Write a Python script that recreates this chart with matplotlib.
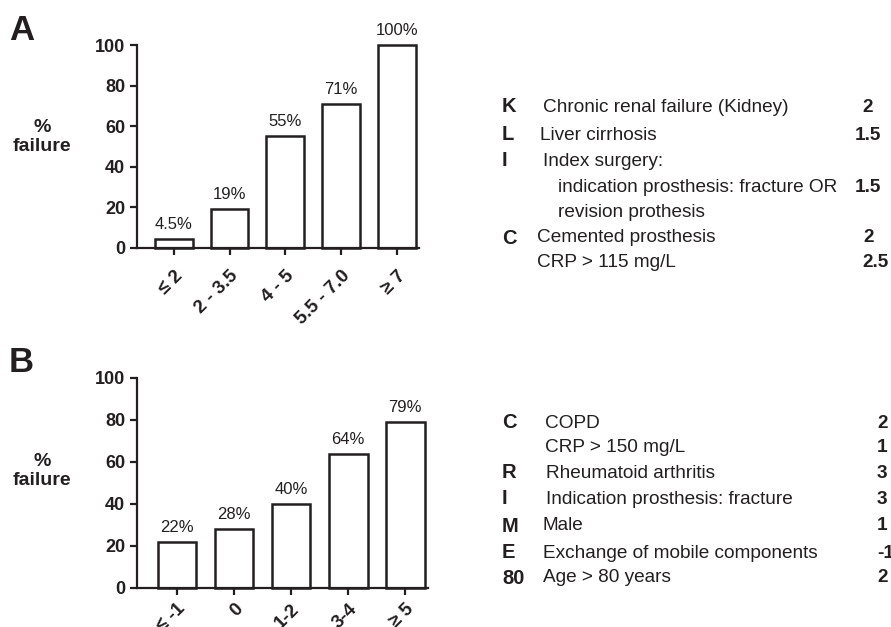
import matplotlib
matplotlib.use("Agg")
import matplotlib.pyplot as plt

plt.rcParams['font.family'] = ['Liberation Sans', 'DejaVu Sans']

# panel A data
cats_a = ["\u2264 2", "2 - 3.5", "4 - 5", "5.5 - 7.0", "\u2265 7"]
vals_a = [4.5, 19, 55, 71, 100]
labels_a = ["4.5%", "19%", "55%", "71%", "100%"]

# panel B data
cats_b = ["\u2264 -1", "0", "1-2", "3-4", "\u2265 5"]
vals_b = [22, 28, 40, 64, 79]
labels_b = ["22%", "28%", "40%", "64%", "79%"]

yticks = [0, 20, 40, 60, 80, 100]

# score tables (letter, description, points)
letters_a = ["K", "L", "I", "", "", "C", ""]
desc_a = ["Chronic renal failure (Kidney)", "Liver cirrhosis", "Index surgery:",
          "indication prosthesis: fracture OR", "revision prothesis",
          "Cemented prosthesis", "CRP > 115 mg/L"]
pts_a = ["2", "1.5", "", "1.5", "", "2", "2.5"]

letters_b = ["C", "", "R", "I", "M", "E", "80"]
desc_b = ["COPD", "CRP > 150 mg/L", "Rheumatoid arthritis",
          "Indication prosthesis: fracture", "Male",
          "Exchange of mobile components", "Age > 80 years"]
pts_b = ["2", "1", "3", "3", "1", "-1", "2"]

W, H = 891, 627
INK = "#231f20"
fig = plt.figure(figsize=(W / 100, H / 100), dpi=100)


def px(x, y):
    return x / W, 1 - y / H


def bar_panel(rect, cats, vals, labels, xlim, pad):
    ax = fig.add_axes(rect)
    ax.bar(range(len(vals)), vals, width=0.68, color="white",
           edgecolor=INK, linewidth=1.8, clip_on=False)
    for i, (v, t) in enumerate(zip(vals, labels)):
        ax.annotate(t, (i, v), xytext=(0, 5), textcoords="offset points",
                    ha="center", va="bottom", fontsize=12, color=INK)
    ax.set_xlim(*xlim)
    ax.set_ylim(0, 100)
    ax.set_yticks(yticks)
    ax.set_yticklabels([str(t) for t in yticks], fontsize=13, fontweight="bold")
    ax.set_xticks(range(len(cats)))
    ax.set_xticklabels(cats, rotation=45, ha="right", rotation_mode="anchor",
                       fontsize=13.5, fontweight="bold")
    for s in ["top", "right"]:
        ax.spines[s].set_visible(False)
    for s in ["left", "bottom"]:
        ax.spines[s].set_linewidth(1.6)
        ax.spines[s].set_color(INK)
    ax.tick_params(length=5, width=1.6, color=INK, labelcolor=INK)
    ax.tick_params(axis="x", pad=pad)
    return ax


bar_panel([137 / W, 1 - 248 / H, 282 / W, 203 / H], cats_a, vals_a, labels_a, (-0.66, 4.4), 9)
bar_panel([137 / W, 1 - 588 / H, 291 / W, 210 / H], cats_b, vals_b, labels_b, (-0.70, 4.4), 4)

# panel letters and y labels
fig.text(*px(9, 30), "A", fontsize=25, fontweight="bold", va="center", color=INK)
fig.text(*px(9, 362), "B", fontsize=25, fontweight="bold", va="center", color=INK)
for y in (137, 471):
    fig.text(*px(42, y), "%\nfailure", fontsize=14, fontweight="bold",
             ha="center", va="center", linespacing=1.15, color=INK)

# score table A
ys_a = [107, 135, 161, 188, 212, 238, 263]
xd_a = [543, 540, 543, 558, 558, 537, 537]
xp_a = [862, 855, 855, 855, 855, 863, 862]
for i in range(len(desc_a)):
    fig.text(*px(502, ys_a[i]), letters_a[i], fontsize=14.5, fontweight="bold",
             va="center", color=INK)
    fig.text(*px(xd_a[i], ys_a[i]), desc_a[i], fontsize=13.7, va="center", color=INK)
    fig.text(*px(xp_a[i], ys_a[i]), pts_a[i], fontsize=13.7, fontweight="bold",
             va="center", color=INK)

# score table B
ys_b = [423, 448, 473, 499, 526, 553, 578]
xd_b = [545, 545, 546, 546, 543, 543, 543]
for i in range(len(desc_b)):
    fig.text(*px(502, ys_b[i]), letters_b[i], fontsize=14.5, fontweight="bold",
             va="center", color=INK)
    fig.text(*px(xd_b[i], ys_b[i]), desc_b[i], fontsize=13.7, va="center", color=INK)
    fig.text(*px(877, ys_b[i]), pts_b[i], fontsize=13.7, fontweight="bold",
             va="center", color=INK)

fig.savefig("out.png", dpi=100)
